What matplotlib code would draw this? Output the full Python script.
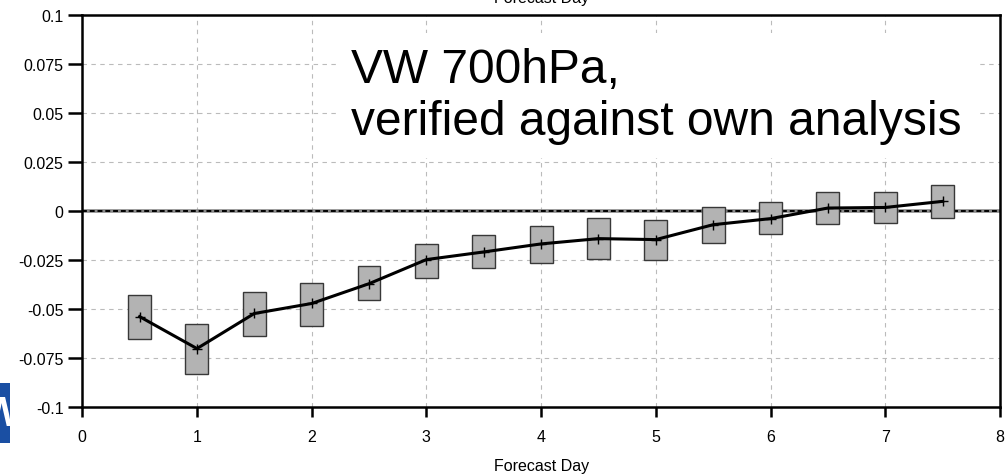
import numpy as np
import matplotlib.pyplot as plt
from matplotlib.patches import Rectangle

# Mittelwert und Konfidenzbereich pro Vorhersagetag
days = [0.5, 1.0, 1.5, 2.0, 2.5, 3.0, 3.5, 4.0, 4.5, 5.0, 5.5, 6.0, 6.5, 7.0, 7.5]
mean = [-0.0539, -0.0702, -0.0523, -0.0472, -0.0371, -0.0248, -0.0209, -0.0168,
        -0.0141, -0.0146, -0.0070, -0.0039, 0.0015, 0.0018, 0.0049]
upper = [-0.0428, -0.0578, -0.0413, -0.0367, -0.0282, -0.0170, -0.0122, -0.0076,
         -0.0034, -0.0048, 0.0020, 0.0046, 0.0097, 0.0097, 0.0134]
lower = [-0.0652, -0.0833, -0.0637, -0.0585, -0.0454, -0.0343, -0.0293, -0.0264,
         -0.0243, -0.0252, -0.0162, -0.0117, -0.0068, -0.0063, -0.0034]

yticks = [-0.1, -0.075, -0.05, -0.025, 0, 0.025, 0.05, 0.075, 0.1]
ytick_labels = ['-0.1', '-0.075', '-0.05', '-0.025', '0', '0.025', '0.05', '0.075', '0.1']
xticks = [0, 1, 2, 3, 4, 5, 6, 7, 8]

plt.rcParams['font.family'] = ['Liberation Sans', 'DejaVu Sans']

fig = plt.figure(figsize=(10.08, 4.77), dpi=100)
ax = fig.add_axes([0.0816, 0.1447, 0.9104, 0.8218])

ax.set_xlim(0, 8)
ax.set_ylim(-0.1, 0.1)

# Gitter
for x in xticks[1:-1]:
    ax.axvline(x, color='#bbbbbb', lw=0.8, ls=(0, (4, 4)), zorder=0)
for y in yticks[1:-1]:
    if y != 0:
        ax.axhline(y, color='#bbbbbb', lw=0.8, ls=(0, (4, 4)), zorder=0)

# Nulllinie
ax.axhline(0, color='#888888', lw=2.6, zorder=1)
ax.axhline(0, color='black', lw=1.4, ls=(0, (2.5, 1.5)), zorder=1)

# Boxen
heights = np.array(upper) - np.array(lower)
ax.bar(days, heights, bottom=lower, width=0.2, color='#b3b3b3',
       edgecolor='#383838', linewidth=1.0, zorder=2)

ax.plot(days, mean, color='black', lw=2.2, marker='+', markersize=7,
        markeredgewidth=1, zorder=3)

ax.text(2.34, 0.0342, 'VW 700hPa,\nverified against own analysis',
        fontsize=34.5, ha='left', va='bottom', color='black', zorder=1.5,
        bbox=dict(boxstyle='square,pad=0.3', facecolor='white', edgecolor='none'))

for side in ['left', 'bottom', 'top', 'right']:
    ax.spines[side].set_linewidth(1.8)

ax.set_xticks(xticks)
ax.set_yticks(yticks)
ax.set_yticklabels(ytick_labels)
ax.tick_params(axis='y', length=10, width=1.8, pad=3.5, labelsize=11.5, colors='black')
ax.tick_params(axis='x', length=7, width=1.8, pad=9, labelsize=11.5, colors='black')
ax.set_xlabel('Forecast Day', fontsize=11.5, labelpad=10)

# abgeschnittene Achsenbeschriftung des Panels darüber
fig.text(0.537, 1.004, 'Forecast Day', fontsize=11.5, ha='center', va='center')

# Logo-Rest am linken Rand
fig.patches.append(Rectangle((0, 1 - 444 / 477), 10 / 1008, 60 / 477,
                             transform=fig.transFigure, facecolor='#1a4fa3',
                             edgecolor='none'))
fig.text(-0.018, 1 - 415 / 477, 'W', fontsize=30, fontweight='bold',
         color='white', ha='left', va='center')

plt.savefig('out.png', dpi=100)
